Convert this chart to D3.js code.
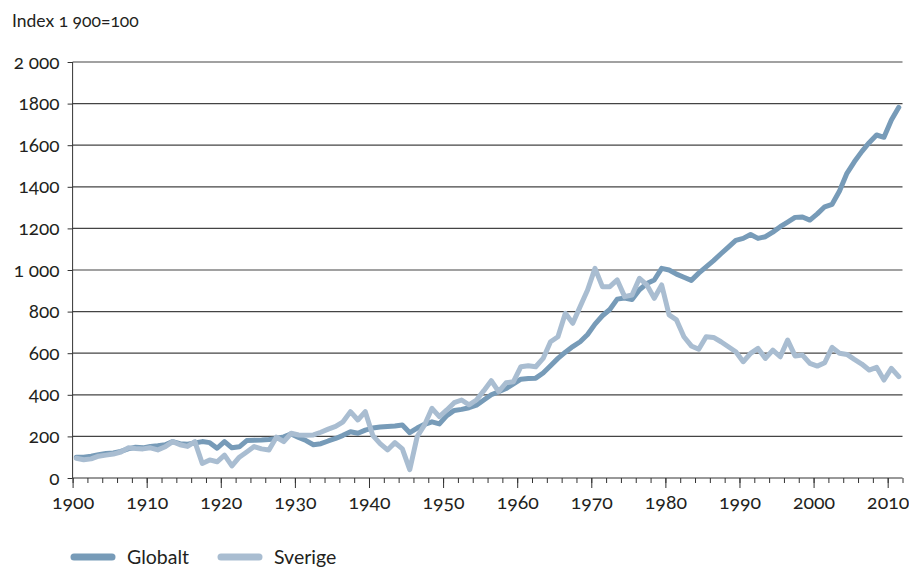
<!DOCTYPE html>
<html><head><meta charset="utf-8">
<script src="https://cdn.jsdelivr.net/npm/d3@7"></script>
<style>
body{margin:0;background:#fff;}
svg text{font-family:"Lato",sans-serif !important;font-variant-numeric:oldstyle-nums;font-feature-settings:"onum" 1;fill:#231f20;}
</style></head><body>
<svg id="chart" width="909" height="570"></svg>
<script>
const years = d3.range(1900, 2012);
const globalt = [
100,100,105,112,118,120,128,140,148,145,
152,155,160,175,165,162,168,175,170,143,
175,145,150,180,182,183,185,190,198,212,
195,180,160,165,178,190,205,222,215,230,
240,245,248,250,255,218,240,258,270,260,
300,325,330,338,350,375,400,415,430,452,
475,478,480,505,540,575,605,632,655,690,
740,780,810,860,865,858,905,935,952,1008,
1000,980,965,950,985,1015,1045,1078,1110,1142,
1152,1171,1152,1160,1182,1208,1230,1253,1255,1240,
1270,1304,1316,1380,1465,1520,1569,1612,1649,1638,
1721,1782];
const sverige = [
95,88,92,105,110,115,125,145,142,140,
145,135,150,175,160,152,175,70,87,78,
110,58,100,125,151,140,135,196,175,215,
207,205,207,220,235,248,270,319,279,319,
205,165,135,170,140,40,199,255,335,295,
327,362,375,352,375,420,468,415,458,463,
535,540,535,575,655,679,792,744,825,904,
1008,920,920,952,872,880,960,928,864,928,
784,760,679,635,619,679,676,655,631,607,
559,599,623,575,615,583,663,587,591,551,
538,554,628,600,594,570,548,519,532,471,
527,487];
const seriesNames = ["Globalt", "Sverige"];
const yTicks = [0,200,400,600,800,1000,1200,1400,1600,1800,2000];
const yTickLabels = ["0","200","400","600","800","1 000","1200","1400","1600","1800","2 000"];
const xMajorTicks = [1900,1910,1920,1930,1940,1950,1960,1970,1980,1990,2000,2010];
const xMinorTicks = d3.range(1900, 2013, 2);
const yTitle = "Index 1 900=100";

const colors = {Globalt: "#779bb8", Sverige: "#a9bdd1"};
const svg = d3.select("#chart");
const L = 72.6, R = 902.5, T = 62, B = 478;

const xAxisScale = d3.scaleLinear().domain([1900, 2012]).range([L, R]);
const xBand = d3.scaleBand().domain(years).range([L, R]).padding(0);
const y = d3.scaleLinear().domain([0, 2000]).range([B, T]);

// gridlines
svg.append("g").selectAll("line").data(yTicks.filter(d => d > 0)).join("line")
  .attr("x1", L).attr("x2", R)
  .attr("y1", d => y(d)).attr("y2", d => y(d))
  .attr("stroke", "#444").attr("stroke-width", 1.2);

// y axis
const yAxis = d3.axisLeft(y).tickValues(yTicks).tickSize(5).tickPadding(8)
  .tickFormat((d, i) => yTickLabels[i]);
const gy = svg.append("g").attr("transform", `translate(${L},0)`).call(yAxis);
gy.attr("font-size", 19);
gy.select(".domain").attr("stroke", "#333").attr("d", `M-0,${B}V${T}`);
gy.selectAll(".tick line").attr("stroke", "#333");
gy.selectAll(".tick text").attr("font-size", 19).attr("fill", "#231f20");

// x axis minor ticks
const gx = svg.append("g").attr("transform", `translate(0,${B})`);
gx.call(d3.axisBottom(xAxisScale).tickValues(xMinorTicks).tickSize(5).tickFormat(""));
gx.select(".domain").attr("stroke", "#333").attr("d", `M${L},0H${R}`);
gx.selectAll(".tick line").attr("stroke", "#333");
const gx2 = svg.append("g").attr("transform", `translate(0,${B})`);
gx2.call(d3.axisBottom(xAxisScale).tickValues(xMajorTicks).tickSize(10).tickPadding(7).tickFormat(d3.format("d")));
gx2.attr("font-size", 19.5);
gx2.select(".domain").remove();
gx2.selectAll(".tick line").attr("stroke", "#333");
gx2.selectAll(".tick text").attr("font-size", 19.5).attr("fill", "#231f20");

// title
svg.append("text").attr("x", 12).attr("y", 27).attr("font-size", 17.5).text(yTitle);

// lines
const line = d3.line()
  .x((d, i) => xBand(years[i]) + xBand.bandwidth() / 2)
  .y(d => y(d))
  .curve(d3.curveLinear);
const seriesData = {Globalt: globalt, Sverige: sverige};
seriesNames.forEach(name => {
  svg.append("path").datum(seriesData[name])
    .attr("fill", "none").attr("stroke", colors[name])
    .attr("stroke-width", 5).attr("stroke-linejoin", "round").attr("stroke-linecap", "round")
    .attr("d", line);
});

// legend
const legendX = [74, 221];
const lg = svg.append("g");
seriesNames.forEach((name, i) => {
  lg.append("line").attr("x1", legendX[i]).attr("x2", legendX[i] + 38)
    .attr("y1", 557).attr("y2", 557)
    .attr("stroke", colors[name]).attr("stroke-width", 7).attr("stroke-linecap", "round");
  lg.append("text").attr("x", legendX[i] + 53).attr("y", 564).attr("font-size", 19.5).text(name);
});
</script>
</body></html>
